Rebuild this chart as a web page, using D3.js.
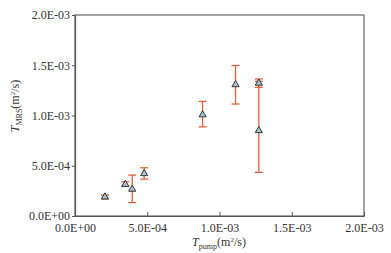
<!DOCTYPE html>
<html>
<head>
<meta charset="utf-8">
<script src="https://cdn.jsdelivr.net/npm/d3@7"></script>
<style>
  body { margin: 0; background: #fff; }
  svg text { font-family: "Liberation Serif", "DejaVu Serif", serif; fill: #333; }
</style>
</head>
<body>
<svg id="chart" width="391" height="253"></svg>
<script>
// data (m^2/s)
const pumpX  = [2.07e-4, 3.48e-4, 3.96e-4, 4.79e-4, 8.83e-4, 1.111e-3, 1.272e-3, 1.272e-3];
const mrsY   = [1.9e-4, 3.15e-4, 2.67e-4, 4.22e-4, 1.007e-3, 1.307e-3, 1.322e-3, 8.5e-4];
const errLow = [1.7e-4, 2.95e-4, 1.34e-4, 3.67e-4, 8.87e-4, 1.114e-3, 1.28e-3, 4.34e-4];
const errHigh= [2.1e-4, 3.4e-4, 4.07e-4, 4.8e-4, 1.14e-3, 1.497e-3, 1.364e-3, 1.34e-3];
const tickVals = [0, 5e-4, 1e-3, 1.5e-3, 2e-3];
const tickLabels = ["0.0E+00", "5.0E-04", "1.0E-03", "1.5E-03", "2.0E-03"];

const margin = {top: 15, right: 27, bottom: 37, left: 75},
    width = 391 - margin.left - margin.right,
    height = 253 - margin.top - margin.bottom;

const svg = d3.select("#chart")
    .append("g")
    .attr("transform", "translate(" + margin.left + "," + margin.top + ")");

const x = d3.scaleLinear().domain([0, 2e-3]).range([0, width]);
const y = d3.scaleLinear().domain([0, 2e-3]).range([height, 0]);

const points = pumpX.map(function(d, i) {
    return {x: d, y: mrsY[i], lo: errLow[i], hi: errHigh[i]};
});

// frame
svg.append("rect")
    .attr("width", width).attr("height", height)
    .attr("fill", "none").attr("stroke", "#666").attr("stroke-width", 1.2);

// x axis, ticks inward
const xAxis = svg.append("g")
    .attr("transform", "translate(0," + height + ")")
    .call(d3.axisBottom(x)
        .tickValues(tickVals)
        .tickFormat(function(d, i) { return tickLabels[i]; })
        .tickSizeInner(-4)
        .tickSizeOuter(0)
        .tickPadding(7));
xAxis.select(".domain").attr("stroke", "#555").attr("stroke-width", 1.2);
xAxis.selectAll(".tick line").attr("stroke", "#555");
xAxis.selectAll(".tick text").style("font-size", "12px").attr("fill", "#333");

// y axis, ticks outward
const yAxis = svg.append("g")
    .call(d3.axisLeft(y)
        .tickValues(tickVals)
        .tickFormat(function(d, i) { return tickLabels[i]; })
        .tickSizeInner(3)
        .tickSizeOuter(0)
        .tickPadding(2));
yAxis.select(".domain").attr("stroke", "#555").attr("stroke-width", 1.2);
yAxis.selectAll(".tick line").attr("stroke", "#555");
yAxis.selectAll(".tick text").style("font-size", "12px").attr("fill", "#333");

// error bars
const eb = svg.selectAll("g.err")
    .data(points)
    .enter().append("g")
    .attr("class", "err")
    .attr("stroke", "#e0603c")
    .attr("stroke-width", 1.3);
eb.append("line")
    .attr("x1", function(d) { return x(d.x); })
    .attr("x2", function(d) { return x(d.x); })
    .attr("y1", function(d) { return y(d.lo); })
    .attr("y2", function(d) { return y(d.hi); });
eb.append("line")
    .attr("x1", function(d) { return x(d.x) - 4; })
    .attr("x2", function(d) { return x(d.x) + 4; })
    .attr("y1", function(d) { return y(d.lo); })
    .attr("y2", function(d) { return y(d.lo); });
eb.append("line")
    .attr("x1", function(d) { return x(d.x) - 4; })
    .attr("x2", function(d) { return x(d.x) + 4; })
    .attr("y1", function(d) { return y(d.hi); })
    .attr("y2", function(d) { return y(d.hi); });

// triangles
svg.selectAll("path.pt")
    .data(points)
    .enter().append("path")
    .attr("class", "pt")
    .attr("d", d3.symbol().type(d3.symbolTriangle).size(22))
    .attr("transform", function(d) { return "translate(" + x(d.x) + "," + y(d.y) + ")"; })
    .attr("fill", "#a9c3d6")
    .attr("stroke", "#333")
    .attr("stroke-width", 1);

// axis titles
const xt = svg.append("text")
    .attr("x", 219 - margin.left)
    .attr("y", height + 30)
    .attr("text-anchor", "middle")
    .style("font-size", "12px");
xt.append("tspan").attr("font-style", "italic").text("T");
xt.append("tspan").attr("dy", 3).style("font-size", "8px").text("pump");
xt.append("tspan").attr("dy", -3).text("(m");
xt.append("tspan").attr("dy", -4).style("font-size", "7px").text("2");
xt.append("tspan").attr("dy", 4).text("/s)");

const yt = svg.append("text")
    .attr("transform", "translate(" + (-56) + "," + (106 - margin.top) + ") rotate(-90)")
    .attr("text-anchor", "middle")
    .style("font-size", "12px");
yt.append("tspan").attr("font-style", "italic").text("T");
yt.append("tspan").attr("dy", 3).style("font-size", "8px").text("MRS");
yt.append("tspan").attr("dy", -3).text("(m");
yt.append("tspan").attr("dy", -4).style("font-size", "7px").text("2");
yt.append("tspan").attr("dy", 4).text("/s)");
</script>
</body>
</html>
